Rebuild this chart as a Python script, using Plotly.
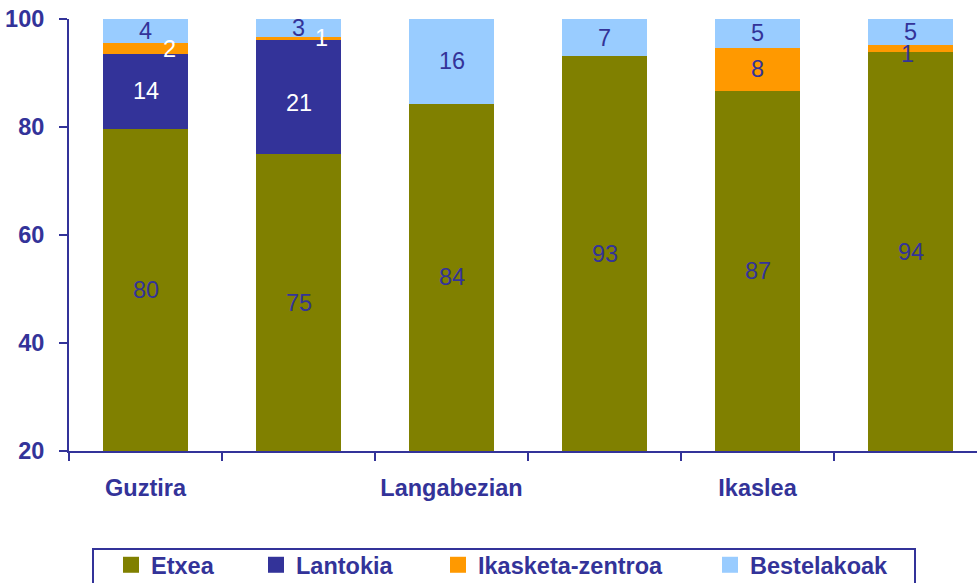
import plotly.graph_objects as go

# ---- data ----
categories = ["Guztira", "", "Langabezian", "", "Ikaslea", ""]
series_names = ["Etxea", "Lantokia", "Ikasketa-zentroa", "Bestelakoak"]
etxea = [79.6, 75.0, 84.3, 93.1, 86.7, 93.8]
lantokia = [14.0, 21.1, 0, 0, 0, 0]
ikasketa = [2.0, 0.6, 0, 0, 8.0, 1.3]
bestelakoak = [4.4, 3.3, 15.7, 6.9, 5.3, 4.9]
y_ticks = [20, 40, 60, 80, 100]
y_min, y_max = 20, 100

# ---- style ----
NAVY = "#333399"
series_colors = ["#808000", "#333399", "#FF9900", "#99CCFF"]
label_colors = [
    [NAVY] * 6,
    ["white"] * 6,
    ["white", "white", NAVY, NAVY, NAVY, NAVY],
    [NAVY] * 6,
]
label_nudge = {(1, 1): (0, -6), (2, 0): (24, -1), (2, 1): (23, 0), (2, 5): (-3, -5)}
FONT = "Liberation Sans, Arial, sans-serif"
FS = 23.5

W, H = 977, 583
ML, MR, MT, MB = 69, 0, 19, 132
plot_w = W - ML - MR
plot_h = H - MT - MB
slot = 153.0  # px per category
x_hi = -0.5 + plot_w / slot

series = [etxea, lantokia, ikasketa, bestelakoak]
xs = list(range(len(categories)))

fig = go.Figure()
legend_ids = ["legend", "legend2", "legend3", "legend4"]
for k, (name, vals) in enumerate(zip(series_names, series)):
    fig.add_trace(go.Bar(
        x=xs, y=vals, name=name, marker=dict(color=series_colors[k], line=dict(width=0)),
        showlegend=False, hoverinfo="skip",
    ))
# legend keys (square swatches)
for k, name in enumerate(series_names):
    fig.add_trace(go.Scatter(
        x=[None], y=[None], mode="markers", name=name, legend=legend_ids[k],
        marker=dict(symbol="square", size=16, color=series_colors[k], line=dict(width=0)),
        hoverinfo="skip",
    ))

# value labels
annotations = []
base = [0.0] * len(categories)
for k, vals in enumerate(series):
    for i, v in enumerate(vals):
        if v > 0:
            lo = max(base[i], y_min)
            hi = base[i] + v
            dx, dy = label_nudge.get((k, i), (0, 0))
            annotations.append(dict(
                x=i, y=(lo + hi) / 2, xref="x", yref="y", text=str(round(v)),
                showarrow=False, xshift=dx, yshift=dy,
                font=dict(family=FONT, size=FS, color=label_colors[k][i]),
            ))
        base[i] += v

def px_to_paper_x(px):
    return (px - ML) / plot_w

def px_to_paper_y(py):
    return (H - MB - py) / plot_h

# legend frame
shapes = [dict(
    type="rect", xref="paper", yref="paper",
    x0=px_to_paper_x(93), x1=px_to_paper_x(915),
    y0=px_to_paper_y(549), y1=px_to_paper_y(610),
    line=dict(color=NAVY, width=2), fillcolor="rgba(0,0,0,0)", layer="above",
)]

legend_text_start = [151, 296, 478, 750]
legend_common = dict(
    orientation="h", xanchor="left", yanchor="middle", y=px_to_paper_y(565),
    bgcolor="rgba(0,0,0,0)", borderwidth=0,
    font=dict(family=FONT, size=FS, color=NAVY, weight="bold"),
)
legend_layout = {}
for lid, tx in zip(legend_ids, legend_text_start):
    legend_layout[lid] = dict(x=px_to_paper_x(tx - 40), **legend_common)

tick_idx = [i for i, c in enumerate(categories) if c]
fig.update_layout(
    width=W, height=H,
    margin=dict(l=ML, r=MR, t=MT, b=MB, autoexpand=False),
    barmode="stack", bargap=1 - 85 / slot,
    plot_bgcolor="white", paper_bgcolor="white",
    showlegend=True,
    annotations=annotations, shapes=shapes,
    xaxis=dict(
        range=[-0.5, x_hi], showgrid=False, zeroline=False,
        tickmode="array", tickvals=tick_idx, ticktext=[categories[i] for i in tick_idx],
        ticks="", showline=True, linecolor=NAVY, linewidth=2,
        tickfont=dict(family=FONT, size=FS, color=NAVY, weight="bold"),
        ticklabelstandoff=15,
        minor=dict(tickmode="array", tickvals=[i - 0.5 for i in range(len(categories) + 1)],
                   ticks="outside", ticklen=8, tickwidth=2, tickcolor=NAVY, showgrid=False),
    ),
    yaxis=dict(
        range=[y_min, y_max], showgrid=False, zeroline=False,
        tickmode="array", tickvals=y_ticks,
        ticks="outside", ticklen=8, tickwidth=2, tickcolor=NAVY,
        showline=True, linecolor=NAVY, linewidth=2,
        tickfont=dict(family=FONT, size=FS, color=NAVY, weight="bold"),
        ticklabelstandoff=10,
    ),
    **legend_layout,
)

fig.write_html(
    "out.html",
    config={"displayModeBar": False},
    post_script="document.body.style.margin='0';document.body.style.overflow='hidden';",
)
